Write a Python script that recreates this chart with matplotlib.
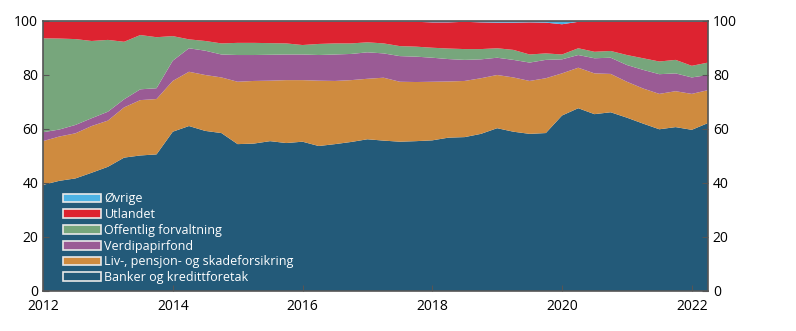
import numpy as np
import matplotlib
matplotlib.use("Agg")
import matplotlib.pyplot as plt
from matplotlib.patches import Patch

# quarterly observations, 2012Q1 - 2022Q2
quarters = [2012 + i / 4 for i in range(42)]

# cumulative tops (percent)
bank_top = [39.3, 40.8, 41.7, 43.8, 46.0, 49.4, 50.2, 50.6, 59.0, 61.1,
            59.3, 58.5, 54.4, 54.6, 55.5, 54.8, 55.3, 53.7, 54.4, 55.2,
            56.2, 55.7, 55.3, 55.5, 55.8, 56.8, 57.0, 58.2, 60.3, 59.0,
            58.2, 58.5, 65.0, 67.7, 65.5, 66.2, 64.2, 62.0, 59.9, 60.7,
            59.7, 62.2]
liv_top = [55.5, 57.2, 58.4, 61.1, 63.1, 68.0, 70.7, 71.1, 77.8, 81.2,
           80.0, 79.1, 77.5, 77.8, 77.9, 78.1, 78.1, 77.9, 77.8, 78.1,
           78.6, 79.0, 77.5, 77.4, 77.5, 77.6, 77.8, 78.8, 80.0, 79.1,
           77.8, 78.8, 80.6, 82.7, 80.6, 80.4, 77.5, 75.0, 73.0, 74.0,
           73.0, 74.4]
fond_top = [58.8, 59.8, 61.5, 64.0, 66.4, 71.0, 74.7, 75.1, 85.3, 89.9,
            89.0, 87.6, 87.4, 87.4, 87.5, 87.6, 87.6, 87.4, 87.6, 87.8,
            88.4, 88.0, 87.0, 86.8, 86.4, 85.9, 85.6, 85.8, 86.4, 85.6,
            84.6, 85.6, 85.8, 87.4, 86.2, 86.4, 83.7, 81.9, 80.3, 80.6,
            79.1, 80.0]
off_top = [93.6, 93.5, 93.3, 92.6, 93.0, 92.3, 94.8, 94.0, 94.4, 93.2,
           92.6, 91.7, 91.9, 91.9, 91.8, 91.7, 91.1, 91.5, 91.7, 91.7,
           92.1, 91.7, 90.7, 90.5, 90.1, 89.8, 89.6, 89.6, 89.9, 89.3,
           87.6, 88.0, 87.6, 89.9, 88.6, 88.9, 87.4, 86.2, 85.0, 85.6,
           83.4, 84.6]
ovrige = [0.2, 0.2, 0.2, 0.2, 0.2, 0.2, 0.2, 0.2, 0.2, 0.2,
          0.2, 0.2, 0.2, 0.2, 0.2, 0.2, 0.2, 0.2, 0.2, 0.2,
          0.2, 0.2, 0.2, 0.3, 0.5, 0.5, 0.3, 0.5, 0.6, 0.6,
          0.5, 0.6, 1.2, 0.3, 0.2, 0.2, 0.2, 0.2, 0.2, 0.2,
          0.3, 0.3]

labels = ["Banker og kredittforetak", "Liv-, pensjon- og skadeforsikring",
          "Verdipapirfond", "Offentlig forvaltning", "Utlandet", "Øvrige"]
colors = ["#235a79", "#cf8b3f", "#9a5b95", "#77a67c", "#dd2330", "#4db3e4"]

bank = np.array(bank_top)
liv = np.array(liv_top) - np.array(bank_top)
fond = np.array(fond_top) - np.array(liv_top)
off = np.array(off_top) - np.array(fond_top)
ovr = np.array(ovrige)
utl = 100 - np.array(off_top) - ovr

plt.rcParams['font.family'] = ['Open Sans', 'DejaVu Sans']

fig = plt.figure(figsize=(7.96, 3.31), dpi=100)
ax = fig.add_axes([43 / 796, 1 - 291 / 331, 665 / 796, 270 / 331])

ax.stackplot(quarters, bank, liv, fond, off, utl, ovr, colors=colors, linewidth=0)

ax.set_xlim(2012, 2022.25)
ax.set_ylim(0, 100)
ax.set_xticks([2012, 2014, 2016, 2018, 2020, 2022])
ax.set_yticks(range(0, 101, 20))
ax.tick_params(direction="in", length=4, color="#555555", labelsize=10,
               right=True, labelright=True)
ax.tick_params(axis="x", pad=6)
for s in ax.spines.values():
    s.set_color("#555555")
    s.set_linewidth(1.2)

handles = [Patch(facecolor=c, edgecolor="#e8e8e8", linewidth=1.2, label=l)
           for c, l in zip(colors, labels)]
leg = ax.legend(handles[::-1], labels[::-1], loc="lower left",
                bbox_to_anchor=(0.02, 0.0), frameon=False, fontsize=9,
                handlelength=3.0, handleheight=0.7, handletextpad=0.3,
                labelspacing=0.22, borderaxespad=0.15)
for t in leg.get_texts():
    t.set_color("white")

fig.savefig("out.png", dpi=100)
